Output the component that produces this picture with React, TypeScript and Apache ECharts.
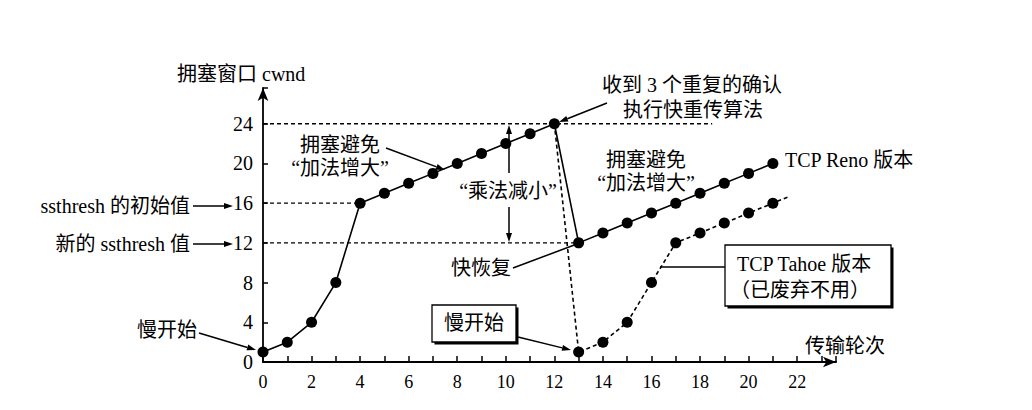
import React, { useEffect, useRef } from 'react';
import * as echarts from 'echarts';

// ---- data ----
const renoRounds = [0, 1, 2, 3, 4, 5, 6, 7, 8, 9, 10, 11, 12, 13, 14, 15, 16, 17, 18, 19, 20, 21];
const renoCwnd = [1, 2, 4, 8, 16, 17, 18, 19, 20, 21, 22, 23, 24, 12, 13, 14, 15, 16, 17, 18, 19, 20];
const tahoeRounds = [12, 13, 14, 15, 16, 17, 18, 19, 20, 21, 21.6];
const tahoeCwnd = [24, 1, 2, 4, 8, 12, 13, 14, 15, 16, 16.6];
const tahoeMarked = [false, true, true, true, true, true, true, true, true, true, false];
const xTickLabels = [0, 2, 4, 6, 8, 10, 12, 14, 16, 18, 20, 22];
const yTickLabels = [0, 4, 8, 12, 16, 20, 24];
const peakCwnd = 24;
const peakLineEnd = 18.5;
const ssthreshInitial = 16;
const ssthreshInitialRound = 4;
const ssthreshNew = 12;
const ssthreshNewRound = 13;

const FONT = '"Liberation Serif", "Noto Sans CJK SC", serif';

type Txt = { t: string; x: number; y: number; align?: string };
const texts: Txt[] = [
  { t: '拥塞窗口 cwnd', x: 177, y: 74, align: 'left' },
  { t: 'ssthresh 的初始值', x: 190, y: 206, align: 'right' },
  { t: '新的 ssthresh 值', x: 190, y: 244, align: 'right' },
  { t: '慢开始', x: 197, y: 330, align: 'right' },
  { t: '拥塞避免', x: 340, y: 145, align: 'center' },
  { t: '“加法增大”', x: 340, y: 168, align: 'center' },
  { t: '“乘法减小”', x: 508, y: 191, align: 'center' },
  { t: '收到 3 个重复的确认', x: 602, y: 85, align: 'left' },
  { t: '执行快重传算法', x: 623, y: 110, align: 'left' },
  { t: '拥塞避免', x: 646, y: 160, align: 'center' },
  { t: '“加法增大”', x: 646, y: 183, align: 'center' },
  { t: 'TCP Reno 版本', x: 785, y: 160, align: 'left' },
  { t: '快恢复', x: 511, y: 268, align: 'right' },
  { t: '慢开始', x: 474, y: 323, align: 'center' },
  { t: 'TCP Tahoe 版本', x: 737, y: 264, align: 'left' },
  { t: '（已废弃不用）', x: 730, y: 290, align: 'left' },
  { t: '传输轮次', x: 805, y: 346, align: 'left' },
];

// [x1, y1, x2, y2, arrowHead]
const arrows: [number, number, number, number, boolean][] = [
  [193, 206, 233, 206, true],
  [193, 244, 233, 244, true],
  [199, 333, 256, 350, true],
  [386, 148, 445, 170, true],
  [607, 103, 559, 122, true],
  [509, 173, 509, 125, true],
  [509, 207, 509, 242, true],
  [513, 268, 577, 244, false],
  [518, 337, 571, 350, true],
  [660, 267, 725, 267, false],
];

const boxes: [number, number, number, number][] = [
  [432, 305, 84, 37],
  [725, 245, 166, 61],
];

function buildGraphic() {
  const els: any[] = [];
  boxes.forEach(([x, y, w, h]) => {
    els.push({ type: 'rect', shape: { x: x + 2.5, y: y + 2.5, width: w, height: h }, style: { fill: '#000' }, z: 10 });
    els.push({ type: 'rect', shape: { x, y, width: w, height: h }, style: { fill: '#fff', stroke: '#000', lineWidth: 1.3 }, z: 11 });
  });
  arrows.forEach(([x1, y1, x2, y2, head]) => {
    const dx = x2 - x1;
    const dy = y2 - y1;
    const len = Math.sqrt(dx * dx + dy * dy);
    const ux = dx / len;
    const uy = dy / len;
    const L = 9;
    const W = 3;
    const bx = head ? x2 - ux * L : x2;
    const by = head ? y2 - uy * L : y2;
    els.push({ type: 'line', shape: { x1, y1, x2: bx, y2: by }, style: { stroke: '#000', lineWidth: 1.5 }, z: 12 });
    if (head) {
      els.push({
        type: 'polygon',
        shape: { points: [[x2, y2], [bx - uy * W, by + ux * W], [bx + uy * W, by - ux * W]] },
        style: { fill: '#000' },
        z: 12,
      });
    }
  });
  texts.forEach((d) => {
    els.push({
      type: 'text',
      x: d.x,
      y: d.y,
      z: 13,
      style: { text: d.t, fill: '#000', fontSize: 20, fontFamily: FONT, align: d.align || 'left', verticalAlign: 'middle' },
    });
  });
  return els;
}

export default function App() {
  const ref = useRef<HTMLDivElement>(null);
  useEffect(() => {
    document.body.style.margin = '0';
    if (!ref.current) return;
    const chart = echarts.init(ref.current, undefined, { renderer: 'svg' });
    const dashed = { color: '#000', width: 1.3, type: [4, 3] as any };
    chart.setOption({
      animation: false,
      backgroundColor: '#fff',
      grid: { left: 263, right: 196, top: 88, bottom: 48 },
      xAxis: {
        type: 'value',
        min: 0,
        max: 23.6,
        interval: 1,
        axisLine: { show: true, symbol: ['none', 'arrow'], symbolSize: [8, 13], lineStyle: { color: '#000', width: 2 } },
        axisTick: { show: true, inside: true, length: 6, lineStyle: { color: '#000', width: 1.5 } },
        axisLabel: {
          margin: 11,
          color: '#000',
          fontSize: 18,
          fontFamily: FONT,
          formatter: (v: number) => (xTickLabels.indexOf(v) >= 0 ? String(v) : ''),
        },
        splitLine: { show: false },
      },
      yAxis: {
        type: 'value',
        min: 0,
        max: 27.6,
        interval: 4,
        axisLine: { show: true, symbol: ['none', 'arrow'], symbolSize: [8, 13], lineStyle: { color: '#000', width: 1.8 } },
        axisTick: { show: true, inside: true, length: 5, lineStyle: { color: '#000', width: 1.5 } },
        axisLabel: {
          margin: 10,
          color: '#000',
          fontSize: 20,
          fontFamily: FONT,
          formatter: (v: number) => (yTickLabels.indexOf(v) >= 0 ? String(v) : ''),
        },
        splitLine: { show: false },
      },
      series: [
        {
          type: 'line',
          data: [[0, peakCwnd], [peakLineEnd, peakCwnd]],
          symbol: 'none',
          lineStyle: dashed,
          silent: true,
          z: 1,
        },
        {
          type: 'line',
          data: [[0, ssthreshInitial], [ssthreshInitialRound, ssthreshInitial]],
          symbol: 'none',
          lineStyle: dashed,
          silent: true,
          z: 1,
        },
        {
          type: 'line',
          data: [[0, ssthreshNew], [ssthreshNewRound, ssthreshNew]],
          symbol: 'none',
          lineStyle: dashed,
          silent: true,
          z: 1,
        },
        {
          type: 'line',
          name: 'TCP Tahoe',
          data: tahoeRounds.map((x, i) => ({ value: [x, tahoeCwnd[i]], symbol: tahoeMarked[i] ? 'circle' : 'none' })),
          symbolSize: 11,
          itemStyle: { color: '#000' },
          lineStyle: { color: '#000', width: 1.6, type: [4, 3] as any },
          silent: true,
          z: 2,
        },
        {
          type: 'line',
          name: 'TCP Reno',
          data: renoRounds.map((x, i) => [x, renoCwnd[i]]),
          symbol: 'circle',
          symbolSize: 11,
          itemStyle: { color: '#000' },
          lineStyle: { color: '#000', width: 1.6 },
          silent: true,
          z: 3,
        },
      ],
      graphic: buildGraphic(),
    });
    return () => chart.dispose();
  }, []);
  return <div ref={ref} style={{ width: 1032, height: 410 }} />;
}
